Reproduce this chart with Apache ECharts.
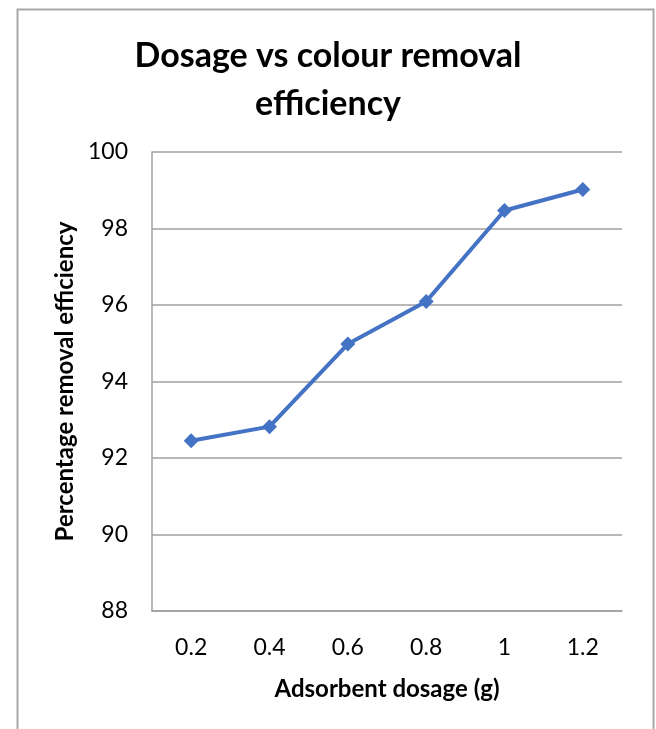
<!DOCTYPE html>
<html>
<head>
<meta charset="utf-8">
<script src="https://cdn.jsdelivr.net/npm/echarts@6/dist/echarts.min.js"></script>
<style>html,body{margin:0;padding:0;background:#fff;}#c{width:656px;height:729px;}</style>
</head>
<body>
<div id="c"></div>
<script>
const categories = ['0.2', '0.4', '0.6', '0.8', '1', '1.2'];
const removalEfficiency = [92.45, 92.82, 94.98, 96.09, 98.47, 99.02];
const titleText = 'Dosage vs colour removal\nefficiency';
const xAxisTitle = 'Adsorbent dosage (g)';
const yAxisTitle = 'Percentage removal efficiency';

const FONT = 'Lato, "Open Sans", sans-serif';
const chart = echarts.init(document.getElementById('c'), null, {renderer: 'canvas'});
chart.setOption({
  animation: false,
  backgroundColor: '#fff',
  graphic: [{
    type: 'rect', left: 15, top: 7,
    shape: {width: 636, height: 740},
    style: {fill: 'none', stroke: '#a8a8a8', lineWidth: 2}
  }],
  title: {
    text: titleText, left: 'center', top: 27,
    textStyle: {fontFamily: FONT, fontWeight: 'bold', fontSize: 34, lineHeight: 48, color: '#000'}
  },
  grid: {left: 152, right: 34, top: 152, bottom: 118},
  xAxis: {
    type: 'category', data: categories, boundaryGap: true,
    name: xAxisTitle, nameLocation: 'middle', nameGap: 66,
    nameTextStyle: {fontFamily: FONT, fontWeight: 'bold', fontSize: 24, color: '#000'},
    axisLine: {show: true, lineStyle: {color: '#a0a0a0', width: 1.5}},
    axisTick: {show: false},
    axisLabel: {fontFamily: FONT, fontSize: 23, color: '#000', margin: 25}
  },
  yAxis: {
    type: 'value', min: 88, max: 100, interval: 2,
    name: yAxisTitle, nameLocation: 'middle', nameGap: 74,
    nameTextStyle: {fontFamily: FONT, fontWeight: 'bold', fontSize: 24, color: '#000'},
    axisLine: {show: true, lineStyle: {color: '#a0a0a0', width: 1.5}},
    axisTick: {show: false},
    axisLabel: {fontFamily: FONT, fontSize: 23, color: '#000', margin: 24},
    splitLine: {show: true, lineStyle: {color: '#a0a0a0', width: 1.5}}
  },
  series: [{
    type: 'line', data: removalEfficiency,
    symbol: 'diamond', symbolSize: 15,
    lineStyle: {color: '#4472C4', width: 4},
    itemStyle: {color: '#4472C4'}
  }]
});
</script>
</body>
</html>
